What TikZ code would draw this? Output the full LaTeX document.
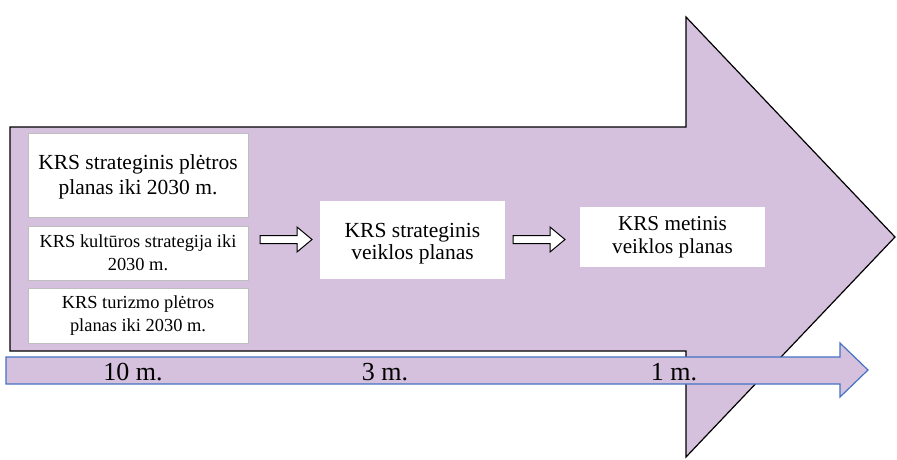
\documentclass[tikz,border=0pt]{standalone}
\usepackage{fontspec}
\setmainfont{Liberation Serif}
\definecolor{lav}{RGB}{213,193,221}
\definecolor{tlblue}{RGB}{68,114,196}
\definecolor{boxgrey}{RGB}{190,190,190}
\begin{document}
\begin{tikzpicture}[x=1pt,y=-1pt,
  docbox/.style={draw=boxgrey,line width=0.8pt,fill=white,align=center,inner sep=2pt},
  plainbox/.style={fill=white,align=center,inner sep=2pt},
  hollow/.style={draw=black,line width=1pt,fill=white,line join=miter},
  lbl/.style={font=\fontsize{26}{28}\selectfont,inner sep=0pt}]
\useasboundingbox (0,0) rectangle (897,459);
% big arrow
\draw[fill=lav,draw=black,line width=1.2pt,line join=miter]
  (10,127) -- (686,127) -- (686,17) -- (895,237) -- (686,457) -- (686,351) -- (10,351) -- cycle;
% timeline arrow
\draw[fill=lav,draw=tlblue,line width=1.2pt,line join=miter]
  (6,357) -- (840,357) -- (840,343) -- (868,370) -- (840,397) -- (840,384) -- (6,384) -- cycle;
\node[lbl,anchor=base] (t10) at (133,380) {10 m.};
\node[lbl,anchor=base] (t3) at (385,380) {3 m.};
\node[lbl,anchor=base] (t1) at (674,380) {1 m.};
% left boxes
\node[docbox,minimum width=220,minimum height=84] (b1) at (138,175) {};
\node[align=center,font=\fontsize{21.5}{25}\selectfont,inner sep=0pt] (b1t) at (b1.center) [yshift=-2pt] {KRS strateginis plėtros\\planas iki 2030 m.};
\node[docbox,minimum width=220,minimum height=54,font=\fontsize{18.4}{23}\selectfont] (b2) at (138,253) {KRS kultūros strategija iki\\2030 m.};
\node[docbox,minimum width=220,minimum height=55,font=\fontsize{18.4}{23}\selectfont] (b3) at (138,315.5) {KRS turizmo plėtros\\planas iki 2030 m.};
% middle and right boxes
\node[plainbox,minimum width=185,minimum height=78] (m) at (412.5,240) {};
\node[align=center,font=\fontsize{21.5}{22}\selectfont,inner sep=0pt] (mt) at (m.center) [yshift=-4pt] {KRS strateginis\\veiklos planas};
\node[plainbox,minimum width=185,minimum height=60,font=\fontsize{21.2}{23}\selectfont] (r) at (672.5,237) {KRS metinis\\veiklos planas};
% hollow arrows
\draw[hollow] (260,235.5) -- (297,235.5) -- (297,227) -- (312,239.5) -- (297,252) -- (297,243.5) -- (260,243.5) -- cycle;
\draw[hollow] (513,235.5) -- (550,235.5) -- (550,227) -- (565,239.5) -- (550,252) -- (550,243.5) -- (513,243.5) -- cycle;
\end{tikzpicture}
\end{document}
